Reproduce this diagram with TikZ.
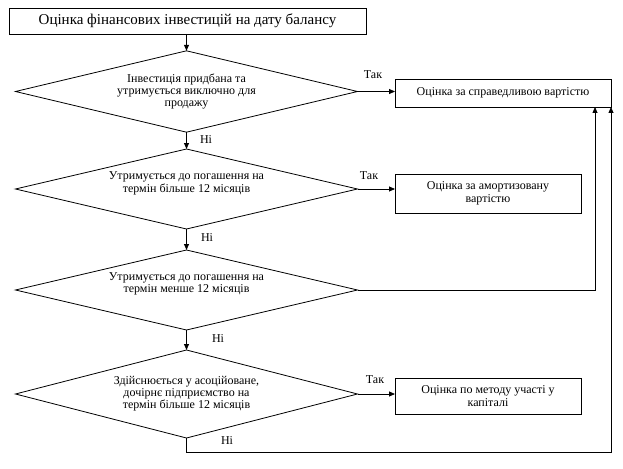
\documentclass[tikz,border=0pt]{standalone}
\usepackage{fontspec}
\setmainfont{Liberation Serif}
\usetikzlibrary{shapes.geometric,arrows.meta}
\begin{document}
\begin{tikzpicture}[x=1pt,y=-1pt,
  every node/.style={inner sep=0pt,outer sep=0pt},
  boxnode/.style={draw,line width=0.8pt,align=center,font=\fontsize{12}{12.5}\selectfont},
  dnode/.style={draw,diamond,line width=0.8pt,align=center,minimum width=342pt,font=\fontsize{12}{12}\selectfont,aspect=3},
  dtext/.style={align=center,font=\fontsize{12}{12.5}\selectfont},
  lbl/.style={font=\fontsize{12}{12}\selectfont},
  conn/.style={line width=0.8pt},
  arr/.style={conn,-{Triangle[length=6pt,width=5pt]}}]
\useasboundingbox (0,0) rectangle (623,468);
\node[boxnode,minimum width=357pt,minimum height=26pt,font=\fontsize{15}{15}\selectfont] (top) at (187.5,21) {Оцінка фінансових інвестицій на дату балансу};
\node[dnode,minimum height=73pt] (d1) at (186.5,91.5) {Інвестиція придбана та\\утримується виключно для\\продажу};
\node[dnode,minimum height=80pt] (d2) at (186.5,189) {};
\node[dtext] (d2t) at ([yshift=5.5pt]d2.center) {Утримується до погашення на\\термін більше 12 місяців};
\node[dnode,minimum height=80pt] (d3) at (186.5,290) {};
\node[dtext] (d3t) at ([yshift=6pt]d3.center) {Утримується до погашення на\\термін менше 12 місяців};
\node[dnode,minimum height=88pt] (d4) at (186.5,394) {Здійснюється у асоційоване,\\дочірнє  підприємство на\\термін більше 12 місяців};
\node[boxnode,minimum width=216pt,minimum height=28pt] (b1) at (503,93) {Оцінка за справедливою вартістю};
\node[boxnode,minimum width=186pt,minimum height=39pt] (b2) at (488,193.5) {Оцінка за амортизовану\\вартістю};
\node[boxnode,minimum width=186pt,minimum height=36pt] (b3) at (488,396) {Оцінка по  методу участі у\\капіталі};
\coordinate (c1) at (595,290);
\coordinate (c2) at (186.5,452);
\coordinate (c3) at (611,452);
\draw[arr] (top.south -| d1.north) -- (d1.north);
\draw[arr] (d1.east) -- (d1.east -| b1.west);
\draw[arr] (d1.south) -- (d2.north);
\draw[arr] (d2.east) -- (d2.east -| b2.west);
\draw[arr] (d2.south) -- (d3.north);
\draw[arr] (d3.south) -- (d4.north);
\draw[arr] (d4.east) -- (d4.east -| b3.west);
\draw[arr] (d3.east) -- (c1) -- (c1 |- b1.south);
\draw[arr] (d4.south) -- (c2) -- (c3) -- (b1.south east);
\node[lbl] (t1) at (373,75) {Так};
\node[lbl] (t2) at (369,176) {Так};
\node[lbl] (t3) at (375,380) {Так};
\node[lbl] (n1) at (206,140) {Ні};
\node[lbl] (n2) at (207,238) {Ні};
\node[lbl] (n3) at (218,339) {Ні};
\node[lbl] (n4) at (227,441) {Ні};
\end{tikzpicture}
\end{document}
